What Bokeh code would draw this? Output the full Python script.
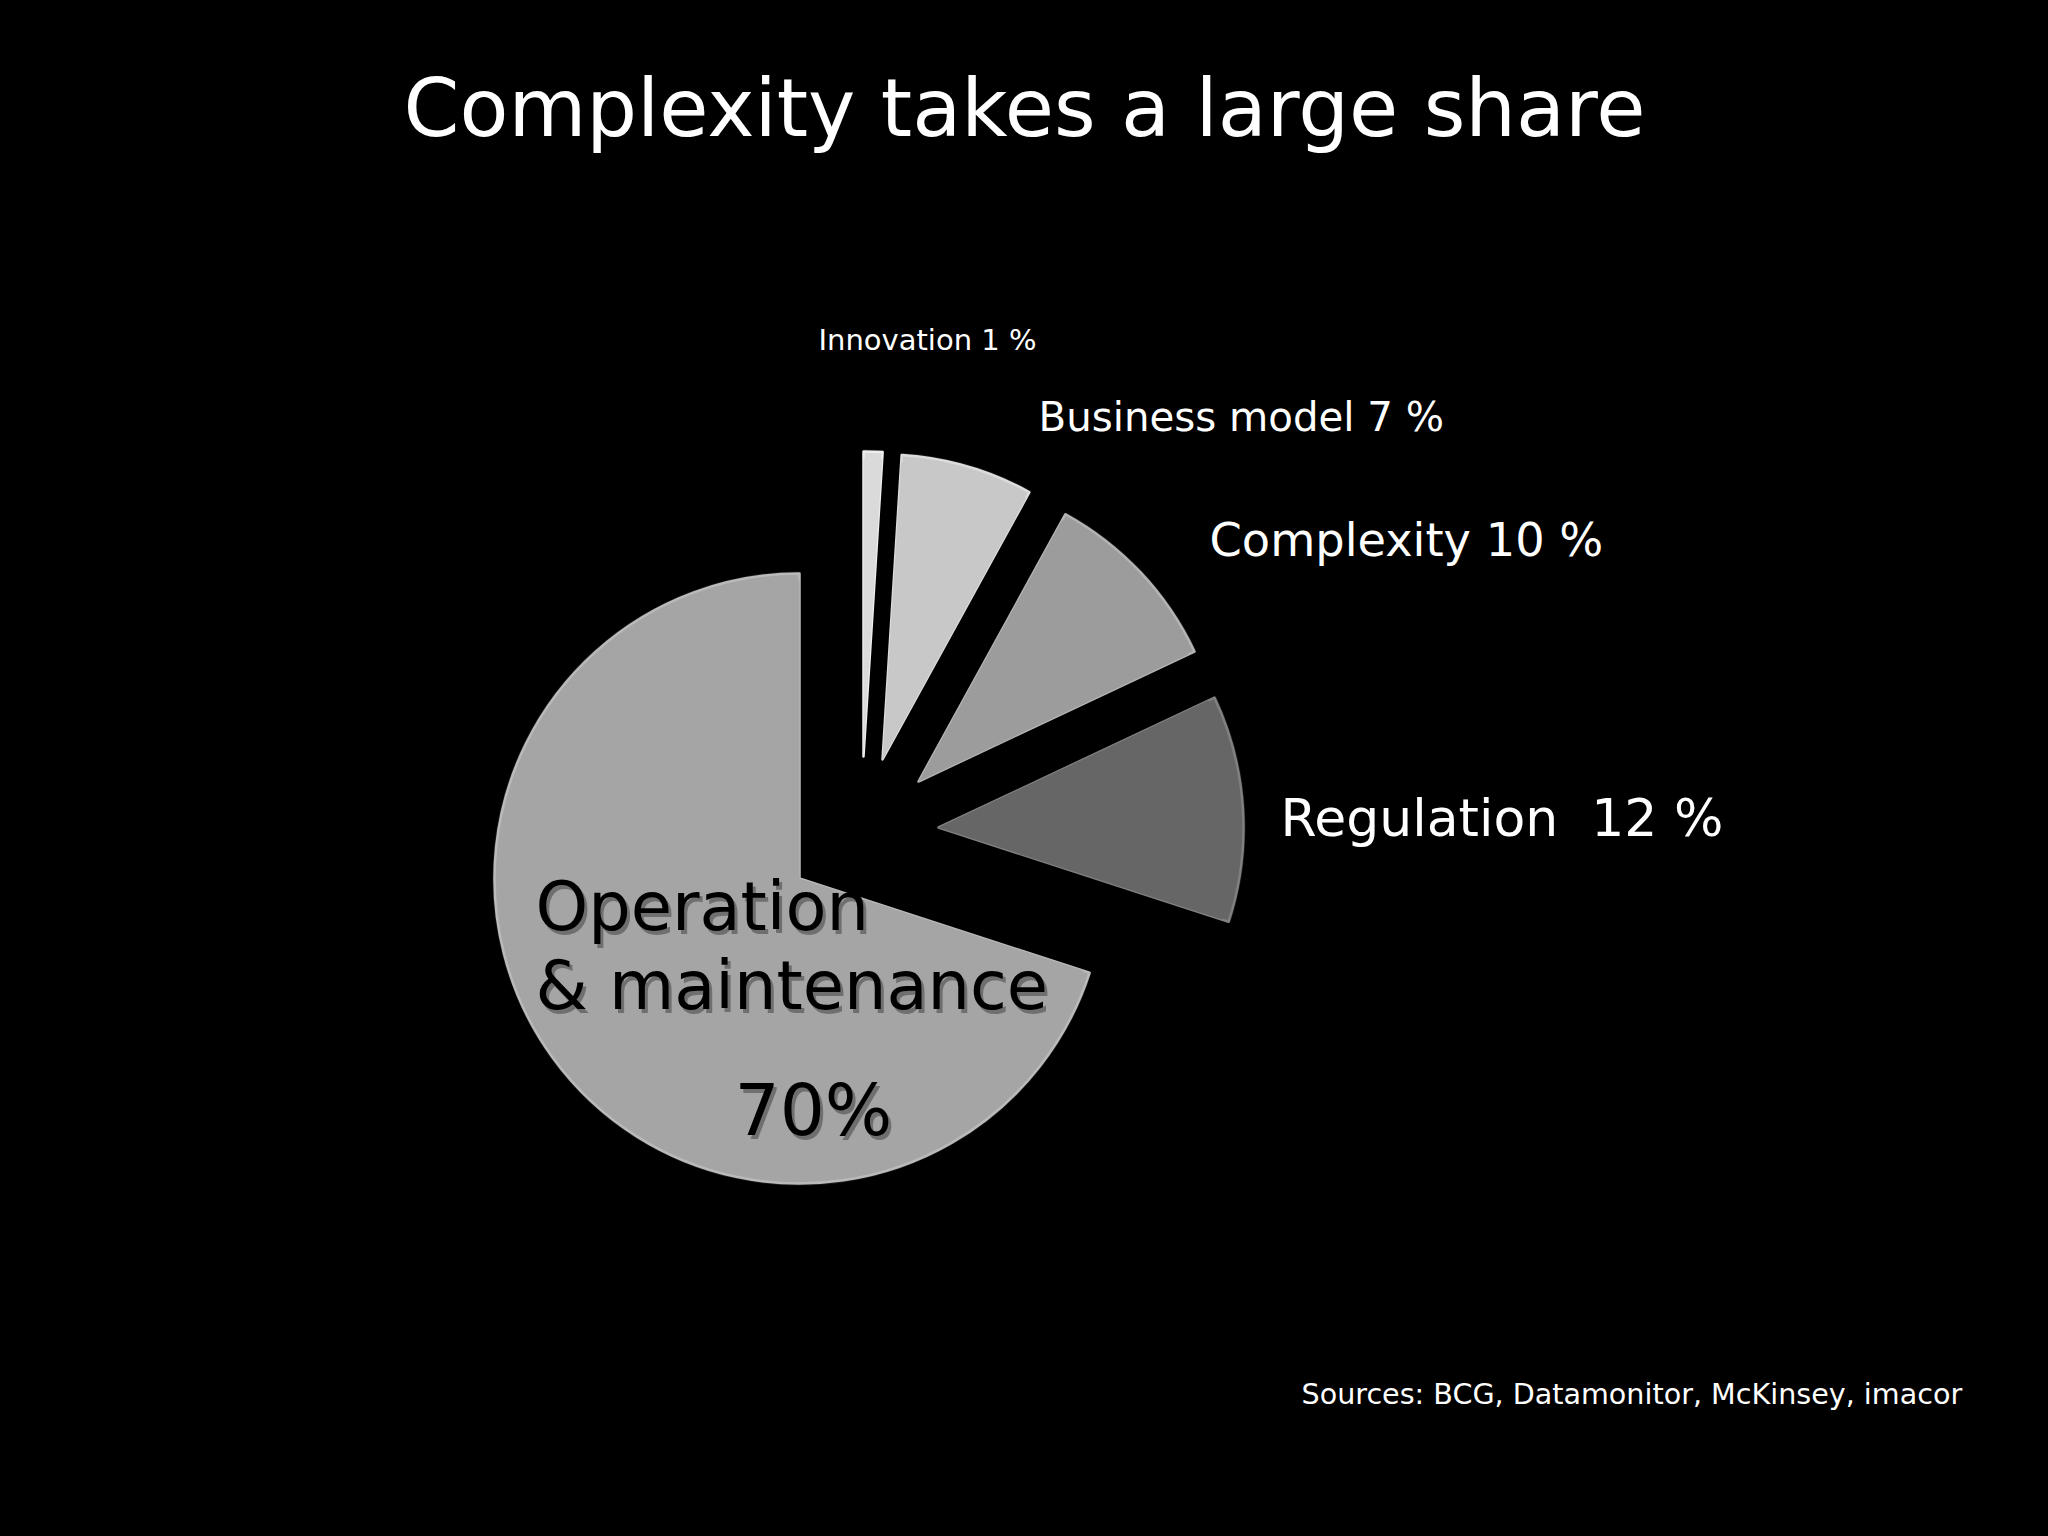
import numpy as np
from bokeh.plotting import figure
from bokeh.models import Range1d, Label, ColumnDataSource
from bokeh.embed import file_html
from bokeh.resources import INLINE

# ---------------- data ----------------
categories = ["Innovation", "Business model", "Complexity", "Regulation", "Operation & maintenance"]
shares = [1, 7, 10, 12, 70]
slice_labels = ["Innovation 1 %", "Business model 7 %", "Complexity 10 %", "Regulation\u00a0\u00a012 %"]
big_label_lines = ["Operation", "& maintenance"]
big_value_label = "70%"
title_text = "Complexity takes a large share"
source_text = "Sources: BCG, Datamonitor, McKinsey, imacor"

# ---------------- style / layout ----------------
W, H = 2032, 1520
FONT = "DejaVu Sans"
fills = ["#dadada", "#c8c8c8", "#9c9c9c", "#666666", "#a5a5a5"]
rims = ["#eeeeee", "#dcdcdc", "#b4b4b4", "#808080", "#bababa"]
explode_dx = [64, 83, 119, 139, 0]
explode_dy = [122, 119, 97, 51, 0]
cx, cy, R = 799, H - 878, 305
BASE_SHIFT = 0.36  # em, compensation of the rendered baseline


def px(page_x):
    return page_x


def py(page_y, fs=0):
    return H - page_y + BASE_SHIFT * fs


shares_arr = np.array(shares, dtype=float)
cum = np.cumsum(shares_arr)
end_angles = np.pi / 2 - 2 * np.pi * (cum - shares_arr) / shares_arr.sum()
start_angles = np.pi / 2 - 2 * np.pi * cum / shares_arr.sum()

src = ColumnDataSource(dict(
    x=[cx + d for d in explode_dx],
    y=[cy + d for d in explode_dy],
    start=start_angles,
    end=end_angles,
    fill=fills,
    rim=rims,
    name=categories,
))

p = figure(width=W, height=H, output_backend="svg", toolbar_location=None,
           x_range=Range1d(0, W), y_range=Range1d(0, H),
           x_axis_location=None, y_axis_location=None, min_border=0,
           background_fill_color="#000000", border_fill_color="#000000")
p.grid.visible = False
p.outline_line_color = None

# soft dark edge + bevel rim + body
p.wedge(x="x", y="y", radius=R + 2, start_angle="start", end_angle="end",
        direction="anticlock", fill_color="#1c1c1c", line_color=None, source=src)
p.wedge(x="x", y="y", radius=R, start_angle="start", end_angle="end",
        direction="anticlock", fill_color="fill", line_color="rim", line_width=2.5,
        line_join="round", source=src)
p.wedge(x="x", y="y", radius=R - 7, start_angle="start", end_angle="end",
        direction="anticlock", fill_color="fill", line_color=None, source=src)

# ---------------- texts ----------------
p.add_layout(Label(x=px(1024), y=py(137, 80), text=title_text, text_font=FONT,
                   text_font_size="80px", text_color="white", text_align="center",
                   text_baseline="alphabetic"))

label_pos = [(818, 350, 29), (1038, 432, 40.3), (1209, 556, 46.3), (1280, 836, 52)]
for txt, (lx, ly, fs) in zip(slice_labels, label_pos):
    p.add_layout(Label(x=px(lx), y=py(ly, fs), text=txt, text_font=FONT,
                       text_font_size=f"{fs}px", text_color="white", text_baseline="alphabetic"))

dark_pos = [(535, 931, 67, big_label_lines[0]), (535, 1010, 67, big_label_lines[1]),
            (734, 1136, 71, big_value_label)]
for lx, ly, fs, txt in dark_pos:
    p.add_layout(Label(x=px(lx) + 3, y=py(ly, fs) - 4, text=txt, text_font=FONT,
                       text_font_size=f"{fs}px", text_color="#444444", text_alpha=0.55,
                       text_baseline="alphabetic"))
    p.add_layout(Label(x=px(lx), y=py(ly, fs), text=txt, text_font=FONT,
                       text_font_size=f"{fs}px", text_color="#000000", text_baseline="alphabetic"))

p.add_layout(Label(x=px(1301), y=py(1404, 28.6), text=source_text, text_font=FONT,
                   text_font_size="28.6px", text_color="white", text_baseline="alphabetic"))

html = file_html(p, INLINE, title="Complexity takes a large share")
html = html.replace("<head>", "<head><style>body{background:#000000;}</style>", 1)
open("out.html", "w").write(html)
